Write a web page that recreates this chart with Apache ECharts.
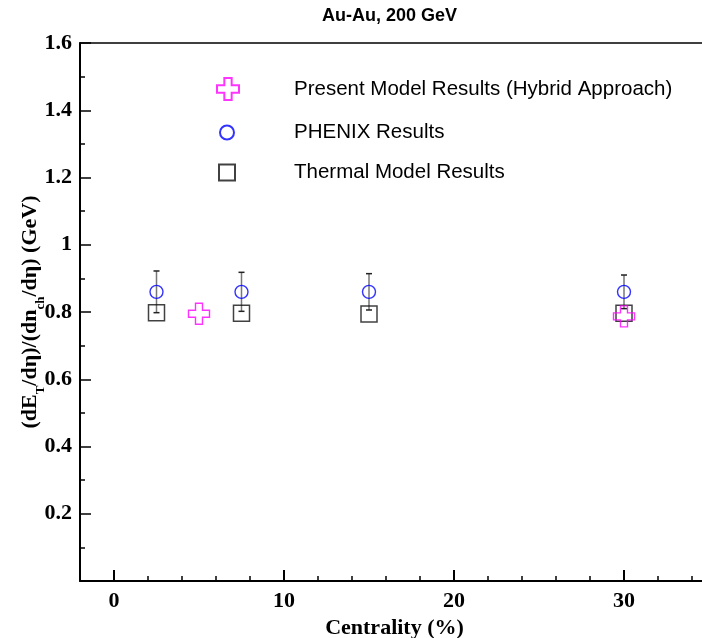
<!DOCTYPE html>
<html>
<head>
<meta charset="utf-8">
<script src="https://cdn.jsdelivr.net/npm/echarts@6/dist/echarts.min.js"></script>
<style>
  html, body { margin: 0; padding: 0; background: #fff; }
  #chart { width: 702px; height: 638px; }
</style>
</head>
<body>
<div id="chart"></div>
<script>
// Transverse energy per charged particle vs. centrality, Au-Au at 200 GeV
const centralityPhenix = [2.5, 7.5, 15, 30];
const phenixValues = [0.86, 0.86, 0.86, 0.86];
const phenixErrors = [0.062, 0.058, 0.054, 0.05];

const centralityThermal = [2.5, 7.5, 15, 30];
const thermalValues = [0.798, 0.796, 0.794, 0.796];

const centralityHybrid = [5, 30];
const hybridValues = [0.795, 0.787];

const xMajorTicks = [0, 10, 20, 30];
const xMinorTicks = [2, 4, 6, 8, 12, 14, 16, 18, 22, 24, 26, 28, 32, 34];

const nameHybrid = 'Present Model Results (Hybrid Approach)';
const namePhenix = 'PHENIX Results';
const nameThermal = 'Thermal Model Results';

const crossPath = 'path://M1,0 L2,0 L2,1 L3,1 L3,2 L2,2 L2,3 L1,3 L1,2 L0,2 L0,1 L1,1 Z';

const serifBold = { fontFamily: 'Liberation Serif', fontWeight: 'bold', color: '#000' };
const legendText = { fontFamily: 'Liberation Sans', fontSize: 20.5, color: '#000' };

const chart = echarts.init(document.getElementById('chart'), null, { renderer: 'canvas' });

const xRange = { min: -2, max: 35 };

chart.setOption({
  animation: false,
  backgroundColor: '#fff',
  title: {
    text: 'Au-Au, 200 GeV',
    left: 322,
    top: 7,
    padding: 0,
    textStyle: { fontFamily: 'Liberation Sans', fontWeight: 'bold', fontSize: 18, color: '#000' }
  },
  grid: { left: 80, right: -7, top: 43, bottom: 57, containLabel: false, outerBoundsMode: 'none' },
  legend: [
    {
      data: [nameHybrid], left: 216, top: 77, itemWidth: 22, itemHeight: 22, padding: 0,
      selectedMode: false, orient: 'vertical',
      textStyle: { ...legendText, padding: [14, 0, 0, 50] }
    },
    {
      data: [namePhenix], left: 219, top: 122, itemWidth: 14, itemHeight: 14, padding: 0,
      selectedMode: false, orient: 'vertical',
      textStyle: { ...legendText, padding: [6, 0, 0, 55] }
    },
    {
      data: [nameThermal], left: 218, top: 162, itemWidth: 16, itemHeight: 16, padding: 0,
      selectedMode: false, orient: 'vertical',
      textStyle: { ...legendText, padding: [10, 0, 0, 54] }
    }
  ],
  xAxis: [
    {
      type: 'value', position: 'bottom', ...xRange,
      name: 'Centrality (%)', nameLocation: 'middle', nameGap: 36,
      nameTextStyle: { ...serifBold, fontSize: 22 },
      axisLine: { show: true, onZero: false, lineStyle: { color: '#000', width: 2 } },
      axisTick: { show: true, inside: true, length: 11, customValues: xMajorTicks, lineStyle: { color: '#000', width: 2 } },
      axisLabel: { show: true, customValues: xMajorTicks, margin: 9, ...serifBold, fontSize: 22 },
      splitLine: { show: false }
    },
    {
      type: 'value', position: 'bottom', ...xRange,
      axisLine: { show: false },
      axisTick: { show: true, inside: true, length: 5, customValues: xMinorTicks, lineStyle: { color: '#000', width: 1.5 } },
      axisLabel: { show: false },
      splitLine: { show: false }
    },
    {
      type: 'value', position: 'top', ...xRange,
      axisLine: { show: true, onZero: false, lineStyle: { color: '#000', width: 1.5 } },
      axisTick: { show: false },
      axisLabel: { show: false },
      splitLine: { show: false }
    }
  ],
  yAxis: {
    type: 'value', min: 0, max: 1.6, interval: 0.2,
    name: '{n|(dE}{s|T}{n|/dη)/(dn}{s|ch}{n|/dη) (GeV)}',
    nameLocation: 'middle', nameGap: 33, nameRotate: 90, nameMoveOverlap: false,
    nameTextStyle: {
      rich: {
        n: { ...serifBold, fontSize: 22, lineHeight: 34 },
        s: { ...serifBold, fontSize: 13, lineHeight: 2, verticalAlign: 'bottom' }
      }
    },
    axisLine: { show: true, onZero: false, lineStyle: { color: '#000', width: 2 } },
    axisTick: { show: true, inside: true, length: 11, lineStyle: { color: '#000', width: 1.5 } },
    minorTick: { show: true, splitNumber: 2, length: 5, lineStyle: { color: '#000', width: 1.5 } },
    axisLabel: {
      margin: 8, ...serifBold, fontSize: 22,
      formatter: v => (v === 0 ? '' : String(+v.toFixed(1)))
    },
    splitLine: { show: false }
  },
  series: [
    {
      type: 'custom',
      name: 'PHENIX error',
      xAxisIndex: 0,
      z: 1,
      renderItem: (params, api) => {
        const x = api.value(0);
        const lo = api.coord([x, api.value(1)]);
        const hi = api.coord([x, api.value(2)]);
        const cap = 3;
        return {
          type: 'group',
          children: [
            { type: 'line', shape: { x1: lo[0], y1: lo[1], x2: hi[0], y2: hi[1] }, style: { stroke: '#777', lineWidth: 1.5 } },
            { type: 'line', shape: { x1: hi[0] - cap, y1: hi[1], x2: hi[0] + cap, y2: hi[1] }, style: { stroke: '#222', lineWidth: 1.5 } },
            { type: 'line', shape: { x1: lo[0] - cap, y1: lo[1], x2: lo[0] + cap, y2: lo[1] }, style: { stroke: '#222', lineWidth: 1.5 } }
          ]
        };
      },
      encode: { x: 0, y: [1, 2] },
      data: centralityPhenix.map((c, i) => [c, phenixValues[i] - phenixErrors[i], phenixValues[i] + phenixErrors[i]])
    },
    {
      type: 'scatter',
      name: nameThermal,
      xAxisIndex: 0,
      symbol: 'rect',
      symbolSize: 16,
      itemStyle: { color: 'rgba(0,0,0,0)', borderColor: '#111', borderWidth: 1.5 },
      data: centralityThermal.map((c, i) => [c, thermalValues[i]])
    },
    {
      type: 'scatter',
      name: namePhenix,
      xAxisIndex: 0,
      symbol: 'circle',
      symbolSize: 13,
      itemStyle: { color: 'rgba(0,0,0,0)', borderColor: '#0000ff', borderWidth: 1.4 },
      data: centralityPhenix.map((c, i) => [c, phenixValues[i]])
    },
    {
      type: 'scatter',
      name: nameHybrid,
      xAxisIndex: 0,
      symbol: crossPath,
      symbolSize: 21,
      itemStyle: { color: 'rgba(0,0,0,0)', borderColor: '#ff00ff', borderWidth: 1.4 },
      data: centralityHybrid.map((c, i) => [c, hybridValues[i]])
    }
  ]
});
</script>
</body>
</html>
